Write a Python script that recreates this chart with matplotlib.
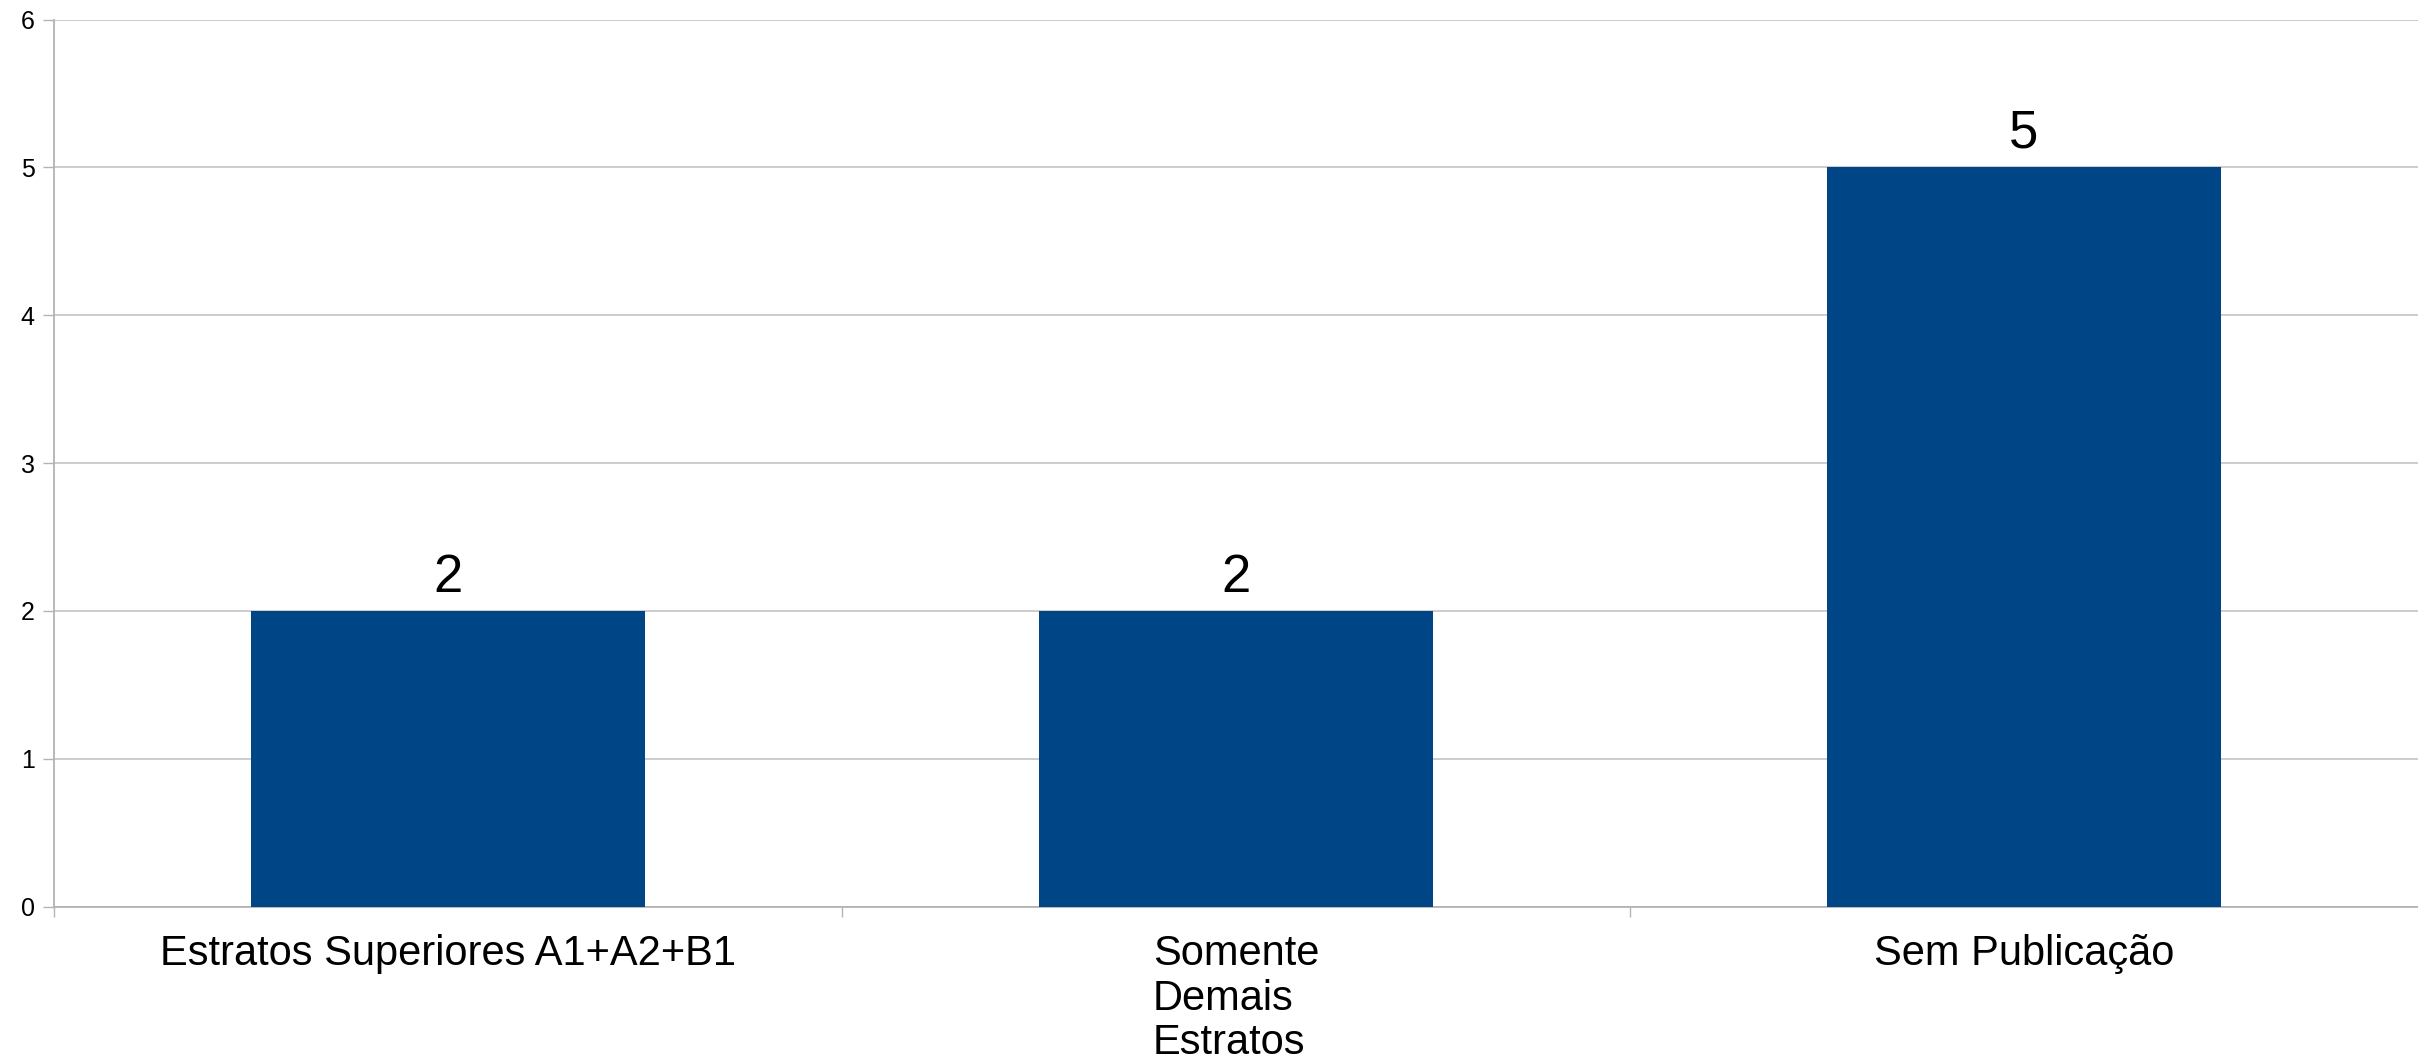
import matplotlib
matplotlib.use("Agg")
import matplotlib.pyplot as plt
from matplotlib.ticker import FixedLocator

categories = ["Estratos Superiores A1+A2+B1", "Somente\nDemais\nEstratos", "Sem Publicação"]
values = [2, 2, 5]
y_ticks = [0, 1, 2, 3, 4, 5, 6]

plt.rcParams['font.family'] = ['Liberation Sans', 'DejaVu Sans']

W, H = 2418, 1062
fig = plt.figure(figsize=(W / 100, H / 100), dpi=100)
ax = fig.add_axes([54 / W, 1 - 906.7 / H, 1 - 54 / W, (906.7 - 19.5) / H])

x = list(range(len(categories)))
bars = ax.bar(x, values, width=0.5, color="#004586", zorder=3)

ax.set_xlim(-0.5, len(categories) - 0.5)
ax.set_ylim(0, 6)
ax.set_yticks(y_ticks)
ax.set_yticklabels([str(v) for v in y_ticks], fontsize=18)
ax.yaxis.grid(True, color="#c8c8c8", linewidth=1.3, zorder=0)

ax.set_xticks(x)
ax.set_xticklabels(categories, fontsize=30, multialignment="left", linespacing=1.13)
ax.xaxis.set_minor_locator(FixedLocator([i - 0.5 for i in range(len(categories))]))
ax.tick_params(axis="x", which="major", length=0, pad=20)
ax.tick_params(axis="x", which="minor", length=7.5, width=1, color="#b3b3b3")
ax.tick_params(axis="y", length=8, width=1, color="#b3b3b3", pad=6)

for s in ["top", "right"]:
    ax.spines[s].set_visible(False)
for s in ["left", "bottom"]:
    ax.spines[s].set_color("#b3b3b3")
    ax.spines[s].set_linewidth(1.3)

for xi, v in zip(x, values):
    ax.annotate(str(v), (xi, v), xytext=(0, 14), textcoords="offset points",
                ha="center", va="baseline", fontsize=38)

fig.savefig("out.png", dpi=100)
